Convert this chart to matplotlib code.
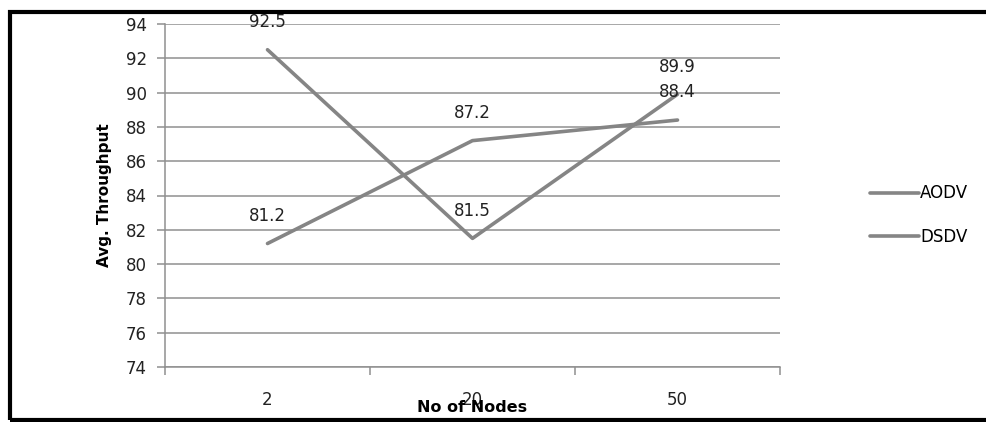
import matplotlib
matplotlib.use("Agg")
import matplotlib.pyplot as plt
from matplotlib.patches import Rectangle

categories = ["2", "20", "50"]
aodv = [92.5, 81.5, 89.9]
dsdv = [81.2, 87.2, 88.4]
series_names = ["AODV", "DSDV"]
yticks = [74, 76, 78, 80, 82, 84, 86, 88, 90, 92, 94]

W, H = 987, 422
fig = plt.figure(figsize=(W / 100, H / 100), dpi=100)
plt.rcParams['font.family'] = ['DejaVu Sans']

ax = fig.add_axes([165 / W, 1 - 367 / H, (780 - 165) / W, (367 - 24) / H])
x = list(range(len(categories)))
line_color = "#858585"
grid_color = "#8f8f8f"

l1, = ax.plot(x, aodv, color=line_color, lw=2.6, solid_capstyle='round')
l2, = ax.plot(x, dsdv, color=line_color, lw=2.6, solid_capstyle='round')

for vals in (aodv, dsdv):
    for xi, v in zip(x, vals):
        ax.annotate(f"{v:.1f}", (xi, v), xytext=(0, 20), textcoords="offset points",
                    ha="center", va="center", fontsize=12, color="#222222",
                    annotation_clip=False)

ax.set_ylim(74, 94)
ax.set_yticks(yticks)
ax.set_yticklabels([str(t) for t in yticks], fontsize=12, color="#222222")
ax.set_xlim(-0.5, len(categories) - 0.5)
ax.set_xticks([i - 0.5 for i in range(len(categories) + 1)])
ax.set_xticklabels([])
ax.set_xticks(x, minor=True)
ax.set_xticklabels(categories, minor=True, fontsize=12, color="#222222")
ax.tick_params(axis='x', which='major', length=6, color=grid_color, width=1.1, direction='out')
ax.tick_params(axis='x', which='minor', length=0, pad=17)
ax.tick_params(axis='y', length=6, color=grid_color, width=1.1, pad=7)

ax.yaxis.grid(True, color=grid_color, lw=1.1)
ax.set_axisbelow(True)
for s in ["top", "right"]:
    ax.spines[s].set_visible(False)
for s in ["left", "bottom"]:
    ax.spines[s].set_color(grid_color)
    ax.spines[s].set_linewidth(1.1)

ax.set_ylabel("Avg. Throughput", fontsize=11, fontweight="bold", labelpad=10)
ax.set_xlabel("No of Nodes", fontsize=11.5, fontweight="bold", labelpad=-6)

fig.legend([l1, l2], series_names, loc="center left",
           bbox_to_anchor=(862 / W, 1 - 215 / H), frameon=False, fontsize=12,
           handlelength=2.9, handletextpad=0.1, labelspacing=1.5, borderpad=0)

fig.add_artist(Rectangle((10 / W, 2 / H), 1.0, (410 - 2) / H, transform=fig.transFigure,
                         fill=False, lw=3, ec="black"))

fig.savefig("out.png", dpi=100)
